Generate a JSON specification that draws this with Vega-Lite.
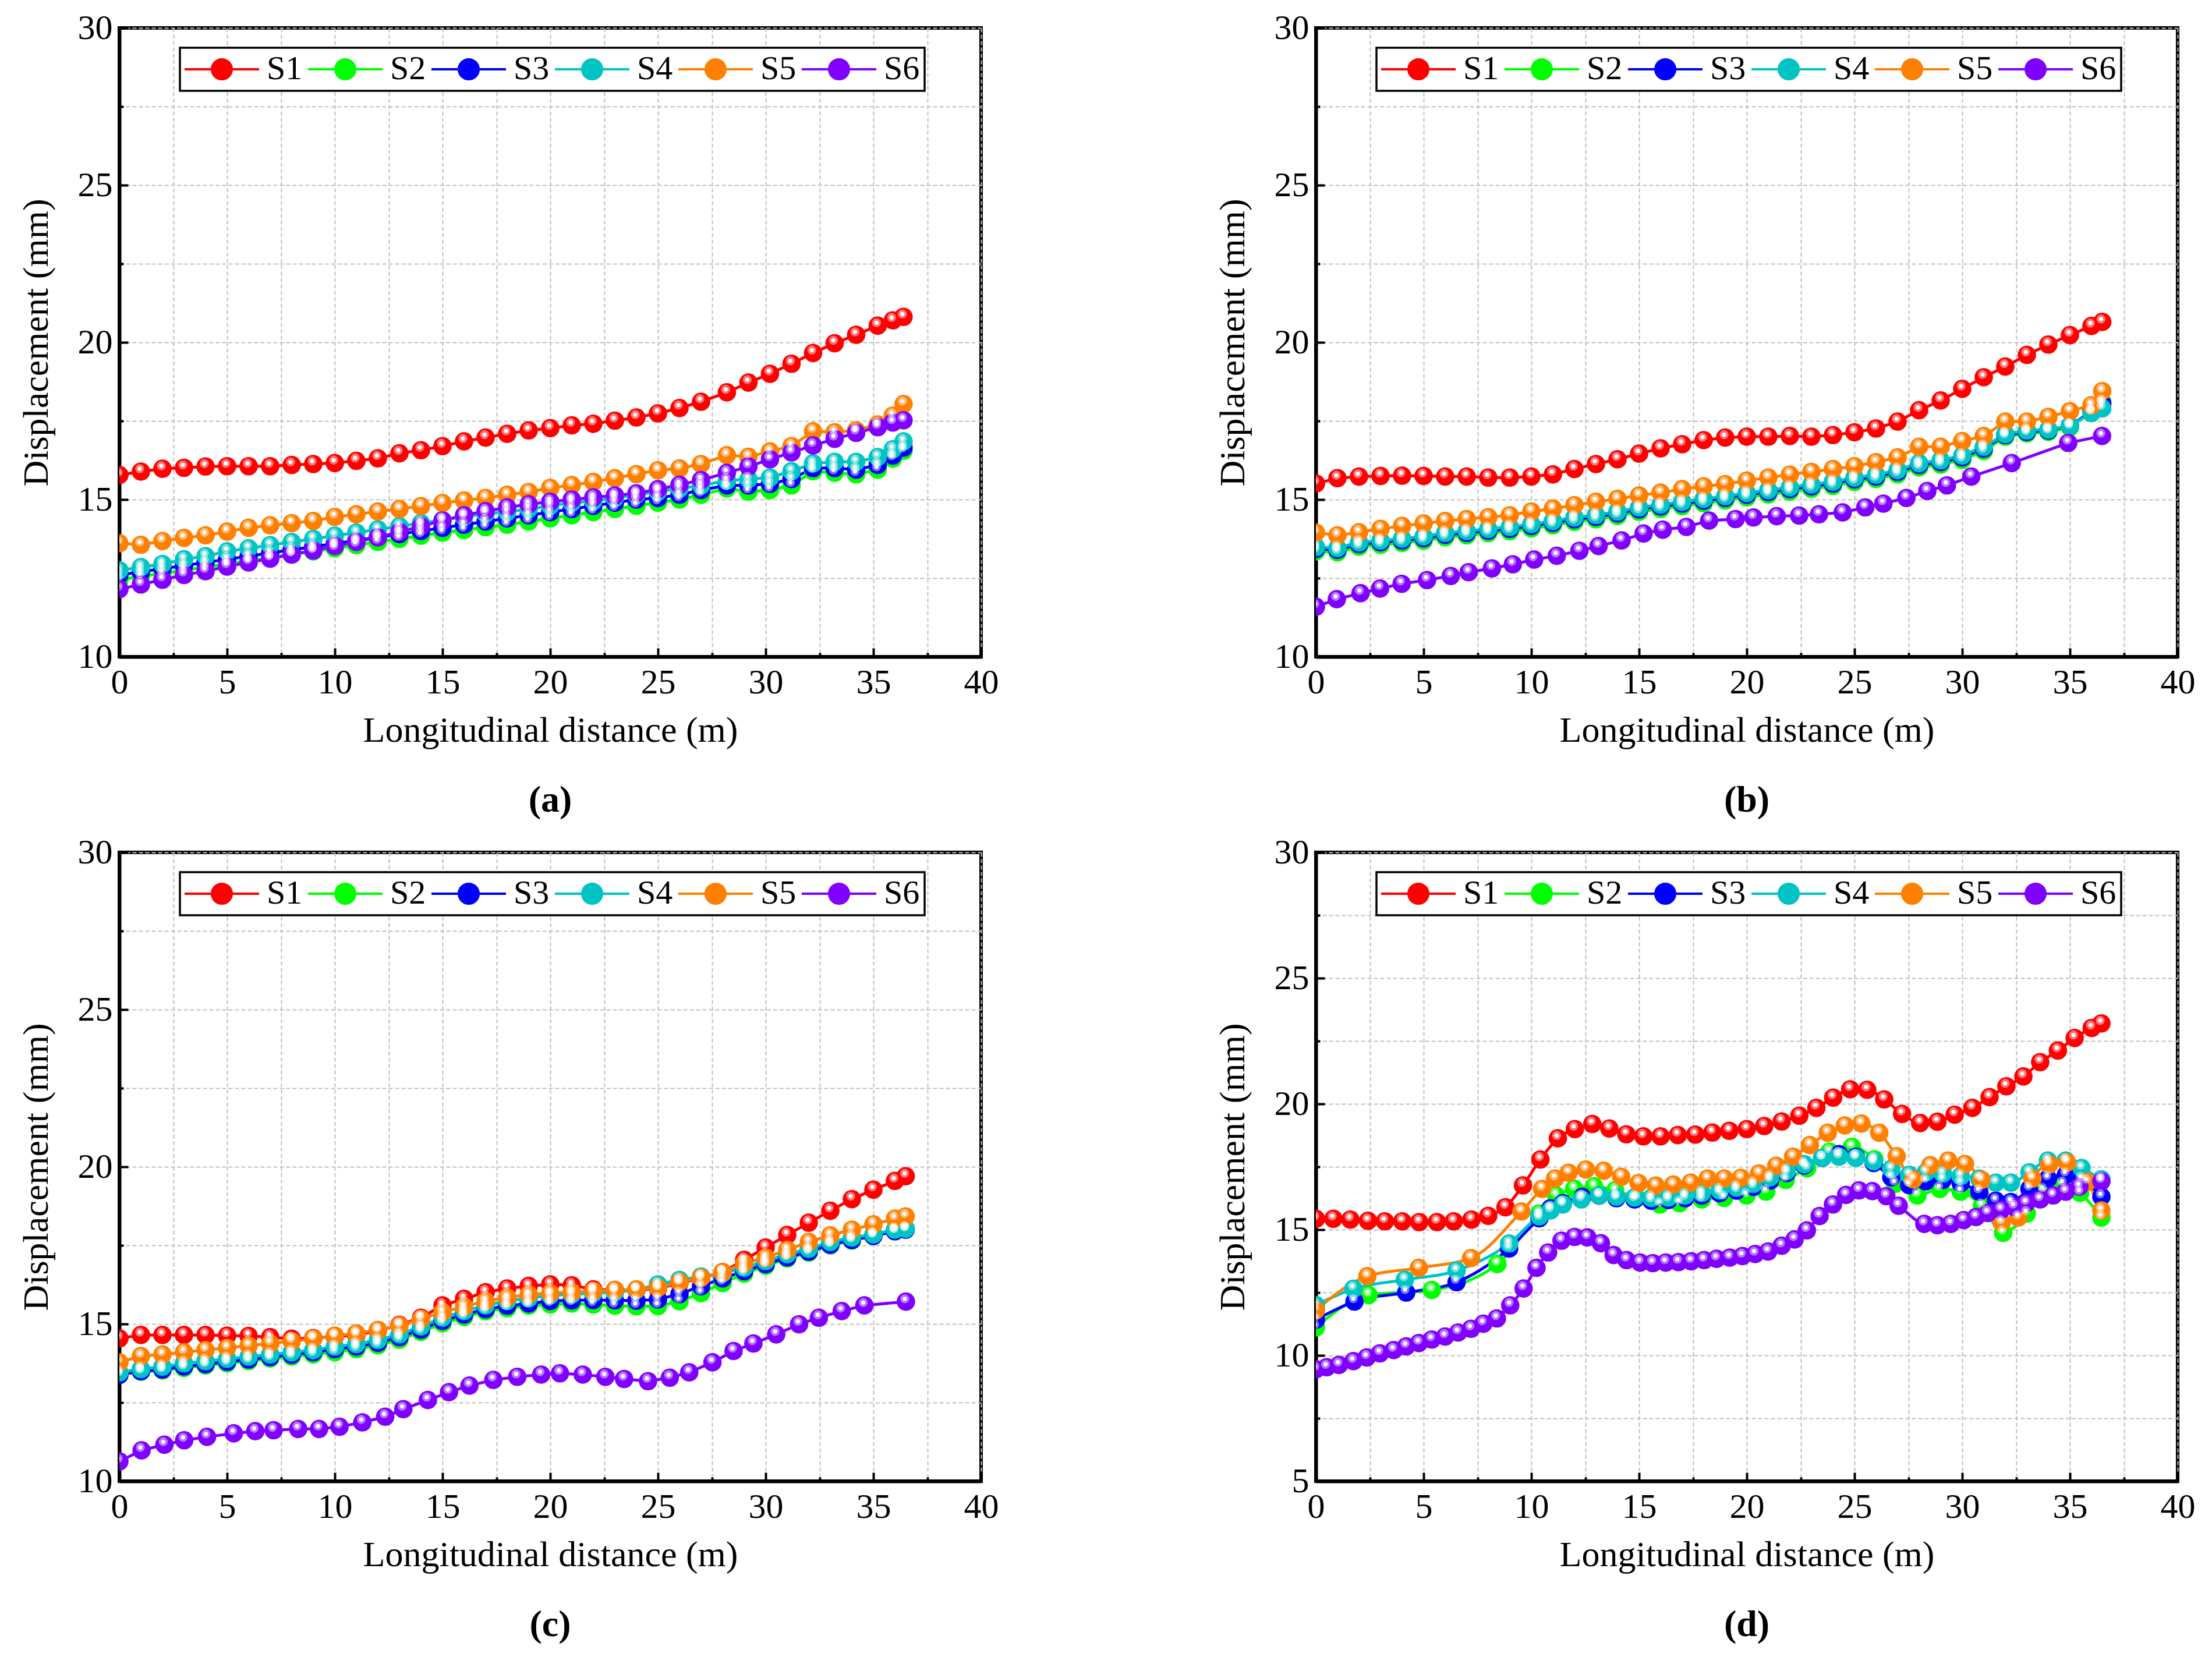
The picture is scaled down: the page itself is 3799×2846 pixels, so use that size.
{
"$schema": "https://vega.github.io/schema/vega-lite/v6.json",
"background": "white",
"padding": {"left": 28, "top": 15, "right": 10, "bottom": 10},
"spacing": 21,
"resolve": {"scale": {"x": "independent", "y": "independent", "color": "independent"}, "legend": {"color": "independent"}},
"datasets": {
"a": [
{"s":"S1","x":0,"y":15.78},{"s":"S1","x":1,"y":15.89},{"s":"S1","x":2,"y":15.98},{"s":"S1","x":3,"y":16.01},{"s":"S1","x":4,"y":16.05},{"s":"S1","x":5,"y":16.06},{"s":"S1","x":6,"y":16.06},{"s":"S1","x":7,"y":16.06},{"s":"S1","x":8,"y":16.1},{"s":"S1","x":9,"y":16.13},{"s":"S1","x":10,"y":16.16},{"s":"S1","x":11,"y":16.23},{"s":"S1","x":12,"y":16.31},{"s":"S1","x":13,"y":16.47},{"s":"S1","x":14,"y":16.57},{"s":"S1","x":15,"y":16.7},{"s":"S1","x":16,"y":16.85},{"s":"S1","x":17,"y":16.97},{"s":"S1","x":18,"y":17.09},{"s":"S1","x":19,"y":17.2},{"s":"S1","x":20,"y":17.27},{"s":"S1","x":21,"y":17.36},{"s":"S1","x":22,"y":17.41},{"s":"S1","x":23,"y":17.51},{"s":"S1","x":24,"y":17.61},{"s":"S1","x":25,"y":17.74},{"s":"S1","x":26,"y":17.91},{"s":"S1","x":27,"y":18.11},{"s":"S1","x":28.2,"y":18.41},{"s":"S1","x":29.2,"y":18.72},{"s":"S1","x":30.2,"y":19.0},{"s":"S1","x":31.2,"y":19.32},{"s":"S1","x":32.2,"y":19.66},{"s":"S1","x":33.2,"y":19.97},{"s":"S1","x":34.2,"y":20.24},{"s":"S1","x":35.2,"y":20.53},{"s":"S1","x":35.9,"y":20.7},{"s":"S1","x":36.4,"y":20.81},
{"s":"S2","x":0,"y":12.45},{"s":"S2","x":1,"y":12.55},{"s":"S2","x":2,"y":12.65},{"s":"S2","x":3,"y":12.75},{"s":"S2","x":4,"y":12.85},{"s":"S2","x":5,"y":12.95},{"s":"S2","x":6,"y":13.05},{"s":"S2","x":7,"y":13.15},{"s":"S2","x":8,"y":13.25},{"s":"S2","x":9,"y":13.35},{"s":"S2","x":10,"y":13.45},{"s":"S2","x":11,"y":13.55},{"s":"S2","x":12,"y":13.65},{"s":"S2","x":13,"y":13.75},{"s":"S2","x":14,"y":13.85},{"s":"S2","x":15,"y":13.95},{"s":"S2","x":16,"y":14.03},{"s":"S2","x":17,"y":14.12},{"s":"S2","x":18,"y":14.2},{"s":"S2","x":19,"y":14.3},{"s":"S2","x":20,"y":14.4},{"s":"S2","x":21,"y":14.5},{"s":"S2","x":22,"y":14.6},{"s":"S2","x":23,"y":14.7},{"s":"S2","x":24,"y":14.8},{"s":"S2","x":25,"y":14.9},{"s":"S2","x":26,"y":15.0},{"s":"S2","x":27,"y":15.15},{"s":"S2","x":28.2,"y":15.35},{"s":"S2","x":29.2,"y":15.25},{"s":"S2","x":30.2,"y":15.3},{"s":"S2","x":31.2,"y":15.45},{"s":"S2","x":32.2,"y":15.9},{"s":"S2","x":33.2,"y":15.85},{"s":"S2","x":34.2,"y":15.8},{"s":"S2","x":35.2,"y":15.95},{"s":"S2","x":35.9,"y":16.3},{"s":"S2","x":36.4,"y":16.55},
{"s":"S3","x":0,"y":12.6},{"s":"S3","x":1,"y":12.7},{"s":"S3","x":2,"y":12.8},{"s":"S3","x":3,"y":12.9},{"s":"S3","x":4,"y":13.0},{"s":"S3","x":5,"y":13.1},{"s":"S3","x":6,"y":13.2},{"s":"S3","x":7,"y":13.3},{"s":"S3","x":8,"y":13.4},{"s":"S3","x":9,"y":13.5},{"s":"S3","x":10,"y":13.6},{"s":"S3","x":11,"y":13.7},{"s":"S3","x":12,"y":13.8},{"s":"S3","x":13,"y":13.9},{"s":"S3","x":14,"y":14.0},{"s":"S3","x":15,"y":14.1},{"s":"S3","x":16,"y":14.2},{"s":"S3","x":17,"y":14.3},{"s":"S3","x":18,"y":14.4},{"s":"S3","x":19,"y":14.5},{"s":"S3","x":20,"y":14.6},{"s":"S3","x":21,"y":14.7},{"s":"S3","x":22,"y":14.8},{"s":"S3","x":23,"y":14.9},{"s":"S3","x":24,"y":15.0},{"s":"S3","x":25,"y":15.05},{"s":"S3","x":26,"y":15.15},{"s":"S3","x":27,"y":15.3},{"s":"S3","x":28.2,"y":15.45},{"s":"S3","x":29.2,"y":15.45},{"s":"S3","x":30.2,"y":15.5},{"s":"S3","x":31.2,"y":15.65},{"s":"S3","x":32.2,"y":16.0},{"s":"S3","x":33.2,"y":16.0},{"s":"S3","x":34.2,"y":15.95},{"s":"S3","x":35.2,"y":16.1},{"s":"S3","x":35.9,"y":16.4},{"s":"S3","x":36.4,"y":16.65},
{"s":"S4","x":0,"y":12.75},{"s":"S4","x":1,"y":12.85},{"s":"S4","x":2,"y":12.95},{"s":"S4","x":3,"y":13.1},{"s":"S4","x":4,"y":13.2},{"s":"S4","x":5,"y":13.35},{"s":"S4","x":6,"y":13.45},{"s":"S4","x":7,"y":13.55},{"s":"S4","x":8,"y":13.65},{"s":"S4","x":9,"y":13.75},{"s":"S4","x":10,"y":13.85},{"s":"S4","x":11,"y":13.95},{"s":"S4","x":12,"y":14.05},{"s":"S4","x":13,"y":14.15},{"s":"S4","x":14,"y":14.25},{"s":"S4","x":15,"y":14.35},{"s":"S4","x":16,"y":14.45},{"s":"S4","x":17,"y":14.55},{"s":"S4","x":18,"y":14.6},{"s":"S4","x":19,"y":14.7},{"s":"S4","x":20,"y":14.8},{"s":"S4","x":21,"y":14.9},{"s":"S4","x":22,"y":14.95},{"s":"S4","x":23,"y":15.05},{"s":"S4","x":24,"y":15.15},{"s":"S4","x":25,"y":15.25},{"s":"S4","x":26,"y":15.35},{"s":"S4","x":27,"y":15.45},{"s":"S4","x":28.2,"y":15.6},{"s":"S4","x":29.2,"y":15.65},{"s":"S4","x":30.2,"y":15.7},{"s":"S4","x":31.2,"y":15.9},{"s":"S4","x":32.2,"y":16.15},{"s":"S4","x":33.2,"y":16.2},{"s":"S4","x":34.2,"y":16.2},{"s":"S4","x":35.2,"y":16.35},{"s":"S4","x":35.9,"y":16.6},{"s":"S4","x":36.4,"y":16.85},
{"s":"S5","x":0,"y":13.61},{"s":"S5","x":1,"y":13.56},{"s":"S5","x":2,"y":13.68},{"s":"S5","x":3,"y":13.78},{"s":"S5","x":4,"y":13.86},{"s":"S5","x":5,"y":13.98},{"s":"S5","x":6,"y":14.1},{"s":"S5","x":7,"y":14.18},{"s":"S5","x":8,"y":14.25},{"s":"S5","x":9,"y":14.32},{"s":"S5","x":10,"y":14.45},{"s":"S5","x":11,"y":14.53},{"s":"S5","x":12,"y":14.62},{"s":"S5","x":13,"y":14.7},{"s":"S5","x":14,"y":14.79},{"s":"S5","x":15,"y":14.89},{"s":"S5","x":16,"y":14.97},{"s":"S5","x":17,"y":15.05},{"s":"S5","x":18,"y":15.15},{"s":"S5","x":19,"y":15.24},{"s":"S5","x":20,"y":15.37},{"s":"S5","x":21,"y":15.46},{"s":"S5","x":22,"y":15.56},{"s":"S5","x":23,"y":15.68},{"s":"S5","x":24,"y":15.81},{"s":"S5","x":25,"y":15.93},{"s":"S5","x":26,"y":15.99},{"s":"S5","x":27,"y":16.13},{"s":"S5","x":28.2,"y":16.41},{"s":"S5","x":29.2,"y":16.36},{"s":"S5","x":30.2,"y":16.53},{"s":"S5","x":31.2,"y":16.7},{"s":"S5","x":32.2,"y":17.17},{"s":"S5","x":33.2,"y":17.14},{"s":"S5","x":34.2,"y":17.2},{"s":"S5","x":35.2,"y":17.39},{"s":"S5","x":35.9,"y":17.67},{"s":"S5","x":36.4,"y":18.04},
{"s":"S6","x":0,"y":12.15},{"s":"S6","x":1,"y":12.3},{"s":"S6","x":2,"y":12.45},{"s":"S6","x":3,"y":12.6},{"s":"S6","x":4,"y":12.72},{"s":"S6","x":5,"y":12.87},{"s":"S6","x":6,"y":13.0},{"s":"S6","x":7,"y":13.12},{"s":"S6","x":8,"y":13.25},{"s":"S6","x":9,"y":13.38},{"s":"S6","x":10,"y":13.52},{"s":"S6","x":11,"y":13.65},{"s":"S6","x":12,"y":13.8},{"s":"S6","x":13,"y":13.97},{"s":"S6","x":14,"y":14.15},{"s":"S6","x":15,"y":14.33},{"s":"S6","x":16,"y":14.5},{"s":"S6","x":17,"y":14.63},{"s":"S6","x":18,"y":14.75},{"s":"S6","x":19,"y":14.85},{"s":"S6","x":20,"y":14.93},{"s":"S6","x":21,"y":15.0},{"s":"S6","x":22,"y":15.07},{"s":"S6","x":23,"y":15.13},{"s":"S6","x":24,"y":15.2},{"s":"S6","x":25,"y":15.33},{"s":"S6","x":26,"y":15.47},{"s":"S6","x":27,"y":15.62},{"s":"S6","x":28.2,"y":15.85},{"s":"S6","x":29.2,"y":16.05},{"s":"S6","x":30.2,"y":16.28},{"s":"S6","x":31.2,"y":16.5},{"s":"S6","x":32.2,"y":16.72},{"s":"S6","x":33.2,"y":16.93},{"s":"S6","x":34.2,"y":17.12},{"s":"S6","x":35.2,"y":17.3},{"s":"S6","x":35.9,"y":17.45},{"s":"S6","x":36.4,"y":17.52}
],
"b": [
{"s":"S1","x":0,"y":15.51},{"s":"S1","x":1,"y":15.68},{"s":"S1","x":2,"y":15.73},{"s":"S1","x":3,"y":15.75},{"s":"S1","x":4,"y":15.76},{"s":"S1","x":5,"y":15.75},{"s":"S1","x":6,"y":15.73},{"s":"S1","x":7,"y":15.73},{"s":"S1","x":8,"y":15.7},{"s":"S1","x":9,"y":15.7},{"s":"S1","x":10,"y":15.73},{"s":"S1","x":11,"y":15.8},{"s":"S1","x":12,"y":15.97},{"s":"S1","x":13,"y":16.13},{"s":"S1","x":14,"y":16.28},{"s":"S1","x":15,"y":16.46},{"s":"S1","x":16,"y":16.63},{"s":"S1","x":17,"y":16.76},{"s":"S1","x":18,"y":16.89},{"s":"S1","x":19,"y":16.97},{"s":"S1","x":20,"y":17.0},{"s":"S1","x":21,"y":17.0},{"s":"S1","x":22,"y":17.02},{"s":"S1","x":23,"y":17.0},{"s":"S1","x":24,"y":17.05},{"s":"S1","x":25,"y":17.14},{"s":"S1","x":26,"y":17.26},{"s":"S1","x":27,"y":17.48},{"s":"S1","x":28,"y":17.84},{"s":"S1","x":29,"y":18.15},{"s":"S1","x":30,"y":18.52},{"s":"S1","x":31,"y":18.89},{"s":"S1","x":32,"y":19.23},{"s":"S1","x":33,"y":19.6},{"s":"S1","x":34,"y":19.93},{"s":"S1","x":35,"y":20.23},{"s":"S1","x":36,"y":20.52},{"s":"S1","x":36.5,"y":20.65},
{"s":"S2","x":0,"y":13.35},{"s":"S2","x":1,"y":13.32},{"s":"S2","x":2,"y":13.5},{"s":"S2","x":3,"y":13.56},{"s":"S2","x":4,"y":13.62},{"s":"S2","x":5,"y":13.69},{"s":"S2","x":6,"y":13.8},{"s":"S2","x":7,"y":13.86},{"s":"S2","x":8,"y":13.93},{"s":"S2","x":9,"y":13.99},{"s":"S2","x":10,"y":14.08},{"s":"S2","x":11,"y":14.18},{"s":"S2","x":12,"y":14.29},{"s":"S2","x":13,"y":14.37},{"s":"S2","x":14,"y":14.48},{"s":"S2","x":15,"y":14.61},{"s":"S2","x":16,"y":14.7},{"s":"S2","x":17,"y":14.79},{"s":"S2","x":18,"y":14.88},{"s":"S2","x":19,"y":14.97},{"s":"S2","x":20,"y":15.07},{"s":"S2","x":21,"y":15.16},{"s":"S2","x":22,"y":15.25},{"s":"S2","x":23,"y":15.34},{"s":"S2","x":24,"y":15.43},{"s":"S2","x":25,"y":15.56},{"s":"S2","x":26,"y":15.65},{"s":"S2","x":27,"y":15.8},{"s":"S2","x":28,"y":16.02},{"s":"S2","x":29,"y":16.11},{"s":"S2","x":30,"y":16.26},{"s":"S2","x":31,"y":16.54},{"s":"S2","x":32,"y":17.0},{"s":"S2","x":33,"y":17.1},{"s":"S2","x":34,"y":17.15},{"s":"S2","x":35,"y":17.3},{"s":"S2","x":36,"y":17.8},{"s":"S2","x":36.5,"y":18.1},
{"s":"S3","x":0,"y":13.43},{"s":"S3","x":1,"y":13.4},{"s":"S3","x":2,"y":13.58},{"s":"S3","x":3,"y":13.64},{"s":"S3","x":4,"y":13.7},{"s":"S3","x":5,"y":13.77},{"s":"S3","x":6,"y":13.88},{"s":"S3","x":7,"y":13.94},{"s":"S3","x":8,"y":14.01},{"s":"S3","x":9,"y":14.07},{"s":"S3","x":10,"y":14.16},{"s":"S3","x":11,"y":14.26},{"s":"S3","x":12,"y":14.37},{"s":"S3","x":13,"y":14.45},{"s":"S3","x":14,"y":14.56},{"s":"S3","x":15,"y":14.69},{"s":"S3","x":16,"y":14.78},{"s":"S3","x":17,"y":14.87},{"s":"S3","x":18,"y":14.96},{"s":"S3","x":19,"y":15.05},{"s":"S3","x":20,"y":15.15},{"s":"S3","x":21,"y":15.24},{"s":"S3","x":22,"y":15.33},{"s":"S3","x":23,"y":15.42},{"s":"S3","x":24,"y":15.51},{"s":"S3","x":25,"y":15.64},{"s":"S3","x":26,"y":15.73},{"s":"S3","x":27,"y":15.88},{"s":"S3","x":28,"y":16.1},{"s":"S3","x":29,"y":16.19},{"s":"S3","x":30,"y":16.34},{"s":"S3","x":31,"y":16.62},{"s":"S3","x":32,"y":17.05},{"s":"S3","x":33,"y":17.15},{"s":"S3","x":34,"y":17.2},{"s":"S3","x":35,"y":17.35},{"s":"S3","x":36,"y":17.8},{"s":"S3","x":36.5,"y":18.05},
{"s":"S4","x":0,"y":13.49},{"s":"S4","x":1,"y":13.46},{"s":"S4","x":2,"y":13.64},{"s":"S4","x":3,"y":13.7},{"s":"S4","x":4,"y":13.76},{"s":"S4","x":5,"y":13.83},{"s":"S4","x":6,"y":13.94},{"s":"S4","x":7,"y":14.0},{"s":"S4","x":8,"y":14.07},{"s":"S4","x":9,"y":14.13},{"s":"S4","x":10,"y":14.22},{"s":"S4","x":11,"y":14.32},{"s":"S4","x":12,"y":14.43},{"s":"S4","x":13,"y":14.51},{"s":"S4","x":14,"y":14.62},{"s":"S4","x":15,"y":14.75},{"s":"S4","x":16,"y":14.84},{"s":"S4","x":17,"y":14.93},{"s":"S4","x":18,"y":15.02},{"s":"S4","x":19,"y":15.11},{"s":"S4","x":20,"y":15.21},{"s":"S4","x":21,"y":15.3},{"s":"S4","x":22,"y":15.39},{"s":"S4","x":23,"y":15.48},{"s":"S4","x":24,"y":15.57},{"s":"S4","x":25,"y":15.7},{"s":"S4","x":26,"y":15.79},{"s":"S4","x":27,"y":15.94},{"s":"S4","x":28,"y":16.16},{"s":"S4","x":29,"y":16.25},{"s":"S4","x":30,"y":16.4},{"s":"S4","x":31,"y":16.68},{"s":"S4","x":32,"y":17.08},{"s":"S4","x":33,"y":17.2},{"s":"S4","x":34,"y":17.23},{"s":"S4","x":35,"y":17.35},{"s":"S4","x":36,"y":17.75},{"s":"S4","x":36.5,"y":17.9},
{"s":"S5","x":0,"y":13.95},{"s":"S5","x":1,"y":13.86},{"s":"S5","x":2,"y":13.96},{"s":"S5","x":3,"y":14.07},{"s":"S5","x":4,"y":14.16},{"s":"S5","x":5,"y":14.24},{"s":"S5","x":6,"y":14.32},{"s":"S5","x":7,"y":14.38},{"s":"S5","x":8,"y":14.44},{"s":"S5","x":9,"y":14.5},{"s":"S5","x":10,"y":14.62},{"s":"S5","x":11,"y":14.71},{"s":"S5","x":12,"y":14.82},{"s":"S5","x":13,"y":14.93},{"s":"S5","x":14,"y":15.02},{"s":"S5","x":15,"y":15.13},{"s":"S5","x":16,"y":15.22},{"s":"S5","x":17,"y":15.33},{"s":"S5","x":18,"y":15.42},{"s":"S5","x":19,"y":15.49},{"s":"S5","x":20,"y":15.6},{"s":"S5","x":21,"y":15.7},{"s":"S5","x":22,"y":15.79},{"s":"S5","x":23,"y":15.88},{"s":"S5","x":24,"y":15.97},{"s":"S5","x":25,"y":16.06},{"s":"S5","x":26,"y":16.19},{"s":"S5","x":27,"y":16.34},{"s":"S5","x":28,"y":16.68},{"s":"S5","x":29,"y":16.68},{"s":"S5","x":30,"y":16.86},{"s":"S5","x":31,"y":17.02},{"s":"S5","x":32,"y":17.48},{"s":"S5","x":33,"y":17.48},{"s":"S5","x":34,"y":17.63},{"s":"S5","x":35,"y":17.81},{"s":"S5","x":36,"y":18.0},{"s":"S5","x":36.5,"y":18.45},
{"s":"S6","x":0,"y":11.59},{"s":"S6","x":0.97,"y":11.83},{"s":"S6","x":2.07,"y":12.02},{"s":"S6","x":2.98,"y":12.17},{"s":"S6","x":3.98,"y":12.32},{"s":"S6","x":5.16,"y":12.44},{"s":"S6","x":6.26,"y":12.57},{"s":"S6","x":7.09,"y":12.69},{"s":"S6","x":8.17,"y":12.81},{"s":"S6","x":9.14,"y":12.94},{"s":"S6","x":10.13,"y":13.09},{"s":"S6","x":11.18,"y":13.21},{"s":"S6","x":12.23,"y":13.37},{"s":"S6","x":13.12,"y":13.52},{"s":"S6","x":14.19,"y":13.7},{"s":"S6","x":15.21,"y":13.92},{"s":"S6","x":16.1,"y":14.04},{"s":"S6","x":17.2,"y":14.13},{"s":"S6","x":18.25,"y":14.33},{"s":"S6","x":19.48,"y":14.38},{"s":"S6","x":20.31,"y":14.43},{"s":"S6","x":21.39,"y":14.47},{"s":"S6","x":22.43,"y":14.49},{"s":"S6","x":23.35,"y":14.53},{"s":"S6","x":24.45,"y":14.59},{"s":"S6","x":25.5,"y":14.75},{"s":"S6","x":26.34,"y":14.87},{"s":"S6","x":27.41,"y":15.05},{"s":"S6","x":28.38,"y":15.27},{"s":"S6","x":29.29,"y":15.45},{"s":"S6","x":30.42,"y":15.73},{"s":"S6","x":32.3,"y":16.16},{"s":"S6","x":34.92,"y":16.8},{"s":"S6","x":36.49,"y":17.02}
],
"c": [
{"s":"S1","x":0,"y":14.54},{"s":"S1","x":1,"y":14.65},{"s":"S1","x":2,"y":14.65},{"s":"S1","x":3,"y":14.65},{"s":"S1","x":4,"y":14.65},{"s":"S1","x":5,"y":14.63},{"s":"S1","x":6,"y":14.62},{"s":"S1","x":7,"y":14.58},{"s":"S1","x":8,"y":14.53},{"s":"S1","x":9,"y":14.55},{"s":"S1","x":10,"y":14.6},{"s":"S1","x":11,"y":14.65},{"s":"S1","x":12,"y":14.78},{"s":"S1","x":13,"y":14.97},{"s":"S1","x":14,"y":15.2},{"s":"S1","x":15,"y":15.59},{"s":"S1","x":16,"y":15.8},{"s":"S1","x":17,"y":16.01},{"s":"S1","x":18,"y":16.13},{"s":"S1","x":19,"y":16.21},{"s":"S1","x":20,"y":16.26},{"s":"S1","x":21,"y":16.23},{"s":"S1","x":22,"y":16.1},{"s":"S1","x":23,"y":16.08},{"s":"S1","x":24,"y":16.08},{"s":"S1","x":25,"y":16.12},{"s":"S1","x":26,"y":16.3},{"s":"S1","x":27,"y":16.45},{"s":"S1","x":28,"y":16.65},{"s":"S1","x":29,"y":17.04},{"s":"S1","x":30,"y":17.43},{"s":"S1","x":31,"y":17.83},{"s":"S1","x":32,"y":18.22},{"s":"S1","x":33,"y":18.6},{"s":"S1","x":34,"y":18.97},{"s":"S1","x":35,"y":19.27},{"s":"S1","x":36,"y":19.55},{"s":"S1","x":36.5,"y":19.7},
{"s":"S2","x":0,"y":13.42},{"s":"S2","x":1,"y":13.48},{"s":"S2","x":2,"y":13.52},{"s":"S2","x":3,"y":13.6},{"s":"S2","x":4,"y":13.68},{"s":"S2","x":5,"y":13.75},{"s":"S2","x":6,"y":13.82},{"s":"S2","x":7,"y":13.9},{"s":"S2","x":8,"y":13.96},{"s":"S2","x":9,"y":14.03},{"s":"S2","x":10,"y":14.1},{"s":"S2","x":11,"y":14.2},{"s":"S2","x":12,"y":14.32},{"s":"S2","x":13,"y":14.5},{"s":"S2","x":14,"y":14.75},{"s":"S2","x":15,"y":15.02},{"s":"S2","x":16,"y":15.22},{"s":"S2","x":17,"y":15.4},{"s":"S2","x":18,"y":15.5},{"s":"S2","x":19,"y":15.58},{"s":"S2","x":20,"y":15.62},{"s":"S2","x":21,"y":15.65},{"s":"S2","x":22,"y":15.62},{"s":"S2","x":23,"y":15.58},{"s":"S2","x":24,"y":15.56},{"s":"S2","x":25,"y":15.57},{"s":"S2","x":26,"y":15.72},{"s":"S2","x":27,"y":15.98},{"s":"S2","x":28,"y":16.3},{"s":"S2","x":29,"y":16.6},{"s":"S2","x":30,"y":16.85},{"s":"S2","x":31,"y":17.08},{"s":"S2","x":32,"y":17.27},{"s":"S2","x":33,"y":17.5},{"s":"S2","x":34,"y":17.65},{"s":"S2","x":35,"y":17.8},{"s":"S2","x":36,"y":17.95},{"s":"S2","x":36.5,"y":18.02},
{"s":"S3","x":0,"y":13.38},{"s":"S3","x":1,"y":13.5},{"s":"S3","x":2,"y":13.55},{"s":"S3","x":3,"y":13.65},{"s":"S3","x":4,"y":13.72},{"s":"S3","x":5,"y":13.8},{"s":"S3","x":6,"y":13.87},{"s":"S3","x":7,"y":13.95},{"s":"S3","x":8,"y":14.02},{"s":"S3","x":9,"y":14.1},{"s":"S3","x":10,"y":14.2},{"s":"S3","x":11,"y":14.28},{"s":"S3","x":12,"y":14.4},{"s":"S3","x":13,"y":14.58},{"s":"S3","x":14,"y":14.82},{"s":"S3","x":15,"y":15.1},{"s":"S3","x":16,"y":15.3},{"s":"S3","x":17,"y":15.47},{"s":"S3","x":18,"y":15.58},{"s":"S3","x":19,"y":15.65},{"s":"S3","x":20,"y":15.73},{"s":"S3","x":21,"y":15.75},{"s":"S3","x":22,"y":15.76},{"s":"S3","x":23,"y":15.75},{"s":"S3","x":24,"y":15.74},{"s":"S3","x":25,"y":15.78},{"s":"S3","x":26,"y":15.95},{"s":"S3","x":27,"y":16.2},{"s":"S3","x":28,"y":16.45},{"s":"S3","x":29,"y":16.68},{"s":"S3","x":30,"y":16.9},{"s":"S3","x":31,"y":17.12},{"s":"S3","x":32,"y":17.3},{"s":"S3","x":33,"y":17.52},{"s":"S3","x":34,"y":17.67},{"s":"S3","x":35,"y":17.8},{"s":"S3","x":36,"y":17.95},{"s":"S3","x":36.5,"y":18.0},
{"s":"S4","x":0,"y":13.46},{"s":"S4","x":1,"y":13.57},{"s":"S4","x":2,"y":13.64},{"s":"S4","x":3,"y":13.75},{"s":"S4","x":4,"y":13.82},{"s":"S4","x":5,"y":13.89},{"s":"S4","x":6,"y":13.96},{"s":"S4","x":7,"y":14.03},{"s":"S4","x":8,"y":14.1},{"s":"S4","x":9,"y":14.17},{"s":"S4","x":10,"y":14.28},{"s":"S4","x":11,"y":14.36},{"s":"S4","x":12,"y":14.49},{"s":"S4","x":13,"y":14.67},{"s":"S4","x":14,"y":14.92},{"s":"S4","x":15,"y":15.2},{"s":"S4","x":16,"y":15.41},{"s":"S4","x":17,"y":15.59},{"s":"S4","x":18,"y":15.73},{"s":"S4","x":19,"y":15.82},{"s":"S4","x":20,"y":15.91},{"s":"S4","x":21,"y":15.94},{"s":"S4","x":22,"y":15.98},{"s":"S4","x":23,"y":16.01},{"s":"S4","x":24,"y":16.08},{"s":"S4","x":25,"y":16.26},{"s":"S4","x":26,"y":16.4},{"s":"S4","x":27,"y":16.51},{"s":"S4","x":28,"y":16.61},{"s":"S4","x":29,"y":16.79},{"s":"S4","x":30,"y":17.0},{"s":"S4","x":31,"y":17.22},{"s":"S4","x":32,"y":17.39},{"s":"S4","x":33,"y":17.61},{"s":"S4","x":34,"y":17.75},{"s":"S4","x":35,"y":17.85},{"s":"S4","x":36,"y":18.0},{"s":"S4","x":36.5,"y":18.03},
{"s":"S5","x":0,"y":13.78},{"s":"S5","x":1,"y":13.98},{"s":"S5","x":2,"y":14.03},{"s":"S5","x":3,"y":14.1},{"s":"S5","x":4,"y":14.17},{"s":"S5","x":5,"y":14.24},{"s":"S5","x":6,"y":14.31},{"s":"S5","x":7,"y":14.38},{"s":"S5","x":8,"y":14.45},{"s":"S5","x":9,"y":14.53},{"s":"S5","x":10,"y":14.63},{"s":"S5","x":11,"y":14.7},{"s":"S5","x":12,"y":14.81},{"s":"S5","x":13,"y":14.95},{"s":"S5","x":14,"y":15.16},{"s":"S5","x":15,"y":15.38},{"s":"S5","x":16,"y":15.55},{"s":"S5","x":17,"y":15.73},{"s":"S5","x":18,"y":15.84},{"s":"S5","x":19,"y":15.94},{"s":"S5","x":20,"y":15.98},{"s":"S5","x":21,"y":16.01},{"s":"S5","x":22,"y":16.05},{"s":"S5","x":23,"y":16.08},{"s":"S5","x":24,"y":16.1},{"s":"S5","x":25,"y":16.15},{"s":"S5","x":26,"y":16.33},{"s":"S5","x":27,"y":16.47},{"s":"S5","x":28,"y":16.65},{"s":"S5","x":29,"y":16.93},{"s":"S5","x":30,"y":17.11},{"s":"S5","x":31,"y":17.36},{"s":"S5","x":32,"y":17.61},{"s":"S5","x":33,"y":17.82},{"s":"S5","x":34,"y":18.0},{"s":"S5","x":35,"y":18.17},{"s":"S5","x":36,"y":18.35},{"s":"S5","x":36.5,"y":18.42},
{"s":"S6","x":0,"y":10.63},{"s":"S6","x":1.03,"y":10.98},{"s":"S6","x":2.09,"y":11.16},{"s":"S6","x":3.01,"y":11.3},{"s":"S6","x":4.07,"y":11.41},{"s":"S6","x":5.31,"y":11.52},{"s":"S6","x":6.31,"y":11.59},{"s":"S6","x":7.16,"y":11.62},{"s":"S6","x":8.3,"y":11.66},{"s":"S6","x":9.27,"y":11.66},{"s":"S6","x":10.22,"y":11.73},{"s":"S6","x":11.28,"y":11.87},{"s":"S6","x":12.34,"y":12.05},{"s":"S6","x":13.18,"y":12.29},{"s":"S6","x":14.32,"y":12.58},{"s":"S6","x":15.3,"y":12.83},{"s":"S6","x":16.25,"y":13.04},{"s":"S6","x":17.36,"y":13.22},{"s":"S6","x":18.47,"y":13.32},{"s":"S6","x":19.58,"y":13.39},{"s":"S6","x":20.45,"y":13.43},{"s":"S6","x":21.51,"y":13.39},{"s":"S6","x":22.56,"y":13.32},{"s":"S6","x":23.43,"y":13.25},{"s":"S6","x":24.54,"y":13.18},{"s":"S6","x":25.55,"y":13.29},{"s":"S6","x":26.45,"y":13.46},{"s":"S6","x":27.53,"y":13.78},{"s":"S6","x":28.51,"y":14.14},{"s":"S6","x":29.43,"y":14.38},{"s":"S6","x":30.49,"y":14.67},{"s":"S6","x":31.55,"y":14.99},{"s":"S6","x":32.47,"y":15.2},{"s":"S6","x":33.53,"y":15.41},{"s":"S6","x":34.58,"y":15.59},{"s":"S6","x":36.51,"y":15.71}
],
"d": [
{"s":"S1","x":0,"y":15.43},{"s":"S1","x":0.81,"y":15.43},{"s":"S1","x":1.6,"y":15.4},{"s":"S1","x":2.42,"y":15.35},{"s":"S1","x":3.2,"y":15.33},{"s":"S1","x":4.01,"y":15.33},{"s":"S1","x":4.8,"y":15.3},{"s":"S1","x":5.62,"y":15.3},{"s":"S1","x":6.4,"y":15.33},{"s":"S1","x":7.22,"y":15.4},{"s":"S1","x":8.0,"y":15.55},{"s":"S1","x":8.8,"y":15.89},{"s":"S1","x":9.61,"y":16.76},{"s":"S1","x":10.42,"y":17.79},{"s":"S1","x":11.23,"y":18.63},{"s":"S1","x":12.02,"y":19.0},{"s":"S1","x":12.83,"y":19.2},{"s":"S1","x":13.62,"y":19.02},{"s":"S1","x":14.41,"y":18.79},{"s":"S1","x":15.2,"y":18.71},{"s":"S1","x":16.0,"y":18.71},{"s":"S1","x":16.8,"y":18.76},{"s":"S1","x":17.61,"y":18.78},{"s":"S1","x":18.4,"y":18.86},{"s":"S1","x":19.19,"y":18.93},{"s":"S1","x":20.0,"y":19.0},{"s":"S1","x":20.81,"y":19.12},{"s":"S1","x":21.62,"y":19.3},{"s":"S1","x":22.44,"y":19.53},{"s":"S1","x":23.23,"y":19.84},{"s":"S1","x":24.01,"y":20.25},{"s":"S1","x":24.8,"y":20.58},{"s":"S1","x":25.59,"y":20.56},{"s":"S1","x":26.38,"y":20.18},{"s":"S1","x":27.21,"y":19.6},{"s":"S1","x":28.05,"y":19.24},{"s":"S1","x":28.85,"y":19.29},{"s":"S1","x":29.65,"y":19.57},{"s":"S1","x":30.47,"y":19.84},{"s":"S1","x":31.27,"y":20.27},{"s":"S1","x":32.05,"y":20.7},{"s":"S1","x":32.84,"y":21.09},{"s":"S1","x":33.62,"y":21.66},{"s":"S1","x":34.44,"y":22.12},{"s":"S1","x":35.22,"y":22.62},{"s":"S1","x":36.01,"y":23.02},{"s":"S1","x":36.46,"y":23.2},
{"s":"S2","x":0,"y":11.11},{"s":"S2","x":2.45,"y":12.4},{"s":"S2","x":5.38,"y":12.6},{"s":"S2","x":8.42,"y":13.63},{"s":"S2","x":10.37,"y":15.64},{"s":"S2","x":11.15,"y":16.36},{"s":"S2","x":11.99,"y":16.62},{"s":"S2","x":12.91,"y":16.72},{"s":"S2","x":13.89,"y":16.56},{"s":"S2","x":14.9,"y":16.25},{"s":"S2","x":15.97,"y":16.0},{"s":"S2","x":16.88,"y":16.05},{"s":"S2","x":17.91,"y":16.2},{"s":"S2","x":18.95,"y":16.26},{"s":"S2","x":19.99,"y":16.36},{"s":"S2","x":20.9,"y":16.51},{"s":"S2","x":21.81,"y":16.98},{"s":"S2","x":22.8,"y":17.44},{"s":"S2","x":23.84,"y":18.1},{"s":"S2","x":24.88,"y":18.29},{"s":"S2","x":25.92,"y":17.8},{"s":"S2","x":26.88,"y":16.82},{"s":"S2","x":27.92,"y":16.36},{"s":"S2","x":28.96,"y":16.62},{"s":"S2","x":29.93,"y":16.51},{"s":"S2","x":30.91,"y":15.95},{"s":"S2","x":31.9,"y":14.87},{"s":"S2","x":33.0,"y":15.64},{"s":"S2","x":33.77,"y":16.56},{"s":"S2","x":34.68,"y":16.82},{"s":"S2","x":35.47,"y":16.46},{"s":"S2","x":36.46,"y":15.48},
{"s":"S3","x":0,"y":11.42},{"s":"S3","x":1.79,"y":12.14},{"s":"S3","x":4.19,"y":12.5},{"s":"S3","x":6.53,"y":12.91},{"s":"S3","x":8.97,"y":14.25},{"s":"S3","x":10.37,"y":15.45},{"s":"S3","x":10.89,"y":15.85},{"s":"S3","x":11.46,"y":16.05},{"s":"S3","x":12.37,"y":16.3},{"s":"S3","x":13.15,"y":16.35},{"s":"S3","x":13.95,"y":16.25},{"s":"S3","x":14.79,"y":16.2},{"s":"S3","x":15.57,"y":16.15},{"s":"S3","x":16.36,"y":16.18},{"s":"S3","x":17.14,"y":16.25},{"s":"S3","x":17.91,"y":16.35},{"s":"S3","x":18.74,"y":16.45},{"s":"S3","x":19.53,"y":16.55},{"s":"S3","x":20.31,"y":16.7},{"s":"S3","x":21.08,"y":16.95},{"s":"S3","x":21.85,"y":17.25},{"s":"S3","x":22.67,"y":17.55},{"s":"S3","x":23.5,"y":17.85},{"s":"S3","x":24.28,"y":18.0},{"s":"S3","x":25.06,"y":17.9},{"s":"S3","x":25.89,"y":17.65},{"s":"S3","x":26.71,"y":17.08},{"s":"S3","x":27.54,"y":16.77},{"s":"S3","x":28.31,"y":16.92},{"s":"S3","x":29.1,"y":16.98},{"s":"S3","x":29.93,"y":16.85},{"s":"S3","x":30.79,"y":16.51},{"s":"S3","x":31.56,"y":16.15},{"s":"S3","x":32.26,"y":16.1},{"s":"S3","x":33.12,"y":16.62},{"s":"S3","x":33.98,"y":17.03},{"s":"S3","x":34.81,"y":17.18},{"s":"S3","x":35.54,"y":17.0},{"s":"S3","x":36.46,"y":16.31},
{"s":"S4","x":0,"y":12.0},{"s":"S4","x":1.74,"y":12.65},{"s":"S4","x":4.13,"y":13.01},{"s":"S4","x":6.53,"y":13.37},{"s":"S4","x":8.97,"y":14.45},{"s":"S4","x":10.37,"y":15.53},{"s":"S4","x":10.89,"y":15.76},{"s":"S4","x":11.46,"y":16.0},{"s":"S4","x":12.32,"y":16.2},{"s":"S4","x":13.15,"y":16.36},{"s":"S4","x":13.95,"y":16.31},{"s":"S4","x":14.79,"y":16.28},{"s":"S4","x":15.57,"y":16.26},{"s":"S4","x":16.36,"y":16.28},{"s":"S4","x":17.14,"y":16.36},{"s":"S4","x":17.91,"y":16.46},{"s":"S4","x":18.74,"y":16.56},{"s":"S4","x":19.53,"y":16.67},{"s":"S4","x":20.31,"y":16.82},{"s":"S4","x":21.08,"y":17.08},{"s":"S4","x":21.85,"y":17.34},{"s":"S4","x":22.67,"y":17.6},{"s":"S4","x":23.5,"y":17.85},{"s":"S4","x":24.28,"y":17.9},{"s":"S4","x":25.06,"y":17.85},{"s":"S4","x":25.89,"y":17.72},{"s":"S4","x":26.71,"y":17.41},{"s":"S4","x":27.54,"y":17.18},{"s":"S4","x":28.31,"y":17.28},{"s":"S4","x":29.1,"y":17.23},{"s":"S4","x":29.93,"y":17.13},{"s":"S4","x":30.79,"y":17.03},{"s":"S4","x":31.56,"y":16.87},{"s":"S4","x":32.26,"y":16.87},{"s":"S4","x":33.12,"y":17.28},{"s":"S4","x":33.98,"y":17.75},{"s":"S4","x":34.81,"y":17.75},{"s":"S4","x":35.54,"y":17.45},{"s":"S4","x":36.46,"y":17.0},
{"s":"S5","x":0,"y":11.8},{"s":"S5","x":2.39,"y":13.15},{"s":"S5","x":4.78,"y":13.48},{"s":"S5","x":7.2,"y":13.87},{"s":"S5","x":9.54,"y":15.72},{"s":"S5","x":10.5,"y":16.62},{"s":"S5","x":11.1,"y":17.03},{"s":"S5","x":11.73,"y":17.26},{"s":"S5","x":12.53,"y":17.39},{"s":"S5","x":13.36,"y":17.34},{"s":"S5","x":14.17,"y":17.1},{"s":"S5","x":14.98,"y":16.85},{"s":"S5","x":15.78,"y":16.75},{"s":"S5","x":16.59,"y":16.79},{"s":"S5","x":17.4,"y":16.87},{"s":"S5","x":18.18,"y":17.03},{"s":"S5","x":18.95,"y":17.03},{"s":"S5","x":19.73,"y":17.06},{"s":"S5","x":20.57,"y":17.23},{"s":"S5","x":21.37,"y":17.54},{"s":"S5","x":22.15,"y":17.9},{"s":"S5","x":22.93,"y":18.36},{"s":"S5","x":23.76,"y":18.85},{"s":"S5","x":24.55,"y":19.14},{"s":"S5","x":25.32,"y":19.22},{"s":"S5","x":26.15,"y":18.85},{"s":"S5","x":26.96,"y":17.92},{"s":"S5","x":27.74,"y":17.0},{"s":"S5","x":28.52,"y":17.56},{"s":"S5","x":29.35,"y":17.75},{"s":"S5","x":30.13,"y":17.61},{"s":"S5","x":30.9,"y":16.98},{"s":"S5","x":31.83,"y":15.28},{"s":"S5","x":32.6,"y":15.48},{"s":"S5","x":33.26,"y":17.03},{"s":"S5","x":34.04,"y":17.59},{"s":"S5","x":34.87,"y":17.67},{"s":"S5","x":35.8,"y":16.9},{"s":"S5","x":36.46,"y":15.76},
{"s":"S6","x":0,"y":9.45},{"s":"S6","x":0.5,"y":9.53},{"s":"S6","x":1.07,"y":9.62},{"s":"S6","x":1.74,"y":9.77},{"s":"S6","x":2.36,"y":9.92},{"s":"S6","x":2.97,"y":10.08},{"s":"S6","x":3.61,"y":10.21},{"s":"S6","x":4.19,"y":10.36},{"s":"S6","x":4.78,"y":10.49},{"s":"S6","x":5.38,"y":10.63},{"s":"S6","x":6.0,"y":10.75},{"s":"S6","x":6.6,"y":10.91},{"s":"S6","x":7.2,"y":11.06},{"s":"S6","x":7.77,"y":11.26},{"s":"S6","x":8.4,"y":11.47},{"s":"S6","x":9.02,"y":11.99},{"s":"S6","x":9.64,"y":12.66},{"s":"S6","x":10.24,"y":13.48},{"s":"S6","x":10.78,"y":14.09},{"s":"S6","x":11.4,"y":14.56},{"s":"S6","x":12.01,"y":14.71},{"s":"S6","x":12.6,"y":14.69},{"s":"S6","x":13.23,"y":14.46},{"s":"S6","x":13.82,"y":13.99},{"s":"S6","x":14.42,"y":13.79},{"s":"S6","x":15.05,"y":13.69},{"s":"S6","x":15.64,"y":13.67},{"s":"S6","x":16.24,"y":13.69},{"s":"S6","x":16.83,"y":13.71},{"s":"S6","x":17.42,"y":13.74},{"s":"S6","x":18.02,"y":13.79},{"s":"S6","x":18.6,"y":13.84},{"s":"S6","x":19.21,"y":13.89},{"s":"S6","x":19.8,"y":13.95},{"s":"S6","x":20.39,"y":14.03},{"s":"S6","x":20.99,"y":14.13},{"s":"S6","x":21.62,"y":14.36},{"s":"S6","x":22.22,"y":14.61},{"s":"S6","x":22.79,"y":14.97},{"s":"S6","x":23.38,"y":15.54},{"s":"S6","x":24.0,"y":16.0},{"s":"S6","x":24.61,"y":16.38},{"s":"S6","x":25.21,"y":16.56},{"s":"S6","x":25.83,"y":16.53},{"s":"S6","x":26.48,"y":16.33},{"s":"S6","x":27.05,"y":15.95},{"s":"S6","x":28.24,"y":15.23},{"s":"S6","x":28.85,"y":15.18},{"s":"S6","x":29.47,"y":15.23},{"s":"S6","x":30.07,"y":15.38},{"s":"S6","x":30.64,"y":15.5},{"s":"S6","x":31.18,"y":15.66},{"s":"S6","x":31.81,"y":15.79},{"s":"S6","x":32.41,"y":15.9},{"s":"S6","x":32.97,"y":16.05},{"s":"S6","x":33.62,"y":16.2},{"s":"S6","x":34.22,"y":16.36},{"s":"S6","x":34.8,"y":16.51},{"s":"S6","x":35.44,"y":16.71},{"s":"S6","x":36.46,"y":16.92}
]
},
"vconcat": [
{
"spacing": 365,
"resolve": {"scale": {"x": "independent", "y": "independent", "color": "independent"}, "legend": {"color": "independent"}},
"hconcat": [
{
"name": "pa", "width": 1480, "height": 1080, "data": {"name": "a"}, "title": {"text": "(a)"},
"encoding": {
"x": {"field": "x", "type": "quantitative", "scale": {"domain": [0, 40], "nice": false}, "axis": {"title": "Longitudinal distance (m)", "values": [0,2.5,5,7.5,10,12.5,15,17.5,20,22.5,25,27.5,30,32.5,35,37.5,40], "labelExpr": "datum.value % 5 === 0 ? datum.label : ''", "tickSize": {"condition": {"test": "datum.value % 5 === 0", "value": -15}, "value": -7}}},
"y": {"field": "y", "type": "quantitative", "scale": {"domain": [10, 30], "nice": false}, "axis": {"title": "Displacement (mm)", "values": [10,12.5,15,17.5,20,22.5,25,27.5,30], "labelExpr": "datum.value % 5 === 0 ? datum.label : ''", "tickSize": {"condition": {"test": "datum.value % 5 === 0", "value": -15}, "value": -7}}}
},
"layer": [
{"mark": {"type": "line", "strokeWidth": 5, "clip": true}, "encoding": {"color": {"field": "s", "type": "nominal", "scale": {"domain": ["S1","S2","S3","S4","S5","S6"], "range": ["#ff0000","#00ff00","#0000ff","#00c4c4","#ff8000","#8000ff"]}, "legend": {"orient": "none", "legendX": 104, "legendY": 34}}}},
{"mark": {"type": "point", "filled": true, "opacity": 1, "size": 1000, "clip": true}, "encoding": {"color": {"field": "s", "type": "nominal", "scale": {"domain": ["S1","S2","S3","S4","S5","S6"], "range": ["#ff0000","#00ff00","#0000ff","#00c4c4","#ff8000","#8000ff"]}, "legend": {"orient": "none", "legendX": 104, "legendY": 34}}}},
{"mark": {"type": "point", "filled": true, "size": 240, "color": "white", "opacity": 0.45, "xOffset": -2, "yOffset": -5, "clip": true}},
{"mark": {"type": "point", "filled": true, "size": 55, "color": "white", "opacity": 0.95, "xOffset": -2, "yOffset": -5, "clip": true}}
]
},
{
"name": "pb", "width": 1480, "height": 1080, "data": {"name": "b"}, "title": {"text": "(b)"},
"encoding": {
"x": {"field": "x", "type": "quantitative", "scale": {"domain": [0, 40], "nice": false}, "axis": {"title": "Longitudinal distance (m)", "values": [0,2.5,5,7.5,10,12.5,15,17.5,20,22.5,25,27.5,30,32.5,35,37.5,40], "labelExpr": "datum.value % 5 === 0 ? datum.label : ''", "tickSize": {"condition": {"test": "datum.value % 5 === 0", "value": -15}, "value": -7}}},
"y": {"field": "y", "type": "quantitative", "scale": {"domain": [10, 30], "nice": false}, "axis": {"title": "Displacement (mm)", "values": [10,12.5,15,17.5,20,22.5,25,27.5,30], "labelExpr": "datum.value % 5 === 0 ? datum.label : ''", "tickSize": {"condition": {"test": "datum.value % 5 === 0", "value": -15}, "value": -7}}}
},
"layer": [
{"mark": {"type": "line", "strokeWidth": 5, "clip": true}, "encoding": {"color": {"field": "s", "type": "nominal", "scale": {"domain": ["S1","S2","S3","S4","S5","S6"], "range": ["#ff0000","#00ff00","#0000ff","#00c4c4","#ff8000","#8000ff"]}, "legend": {"orient": "none", "legendX": 104, "legendY": 34}}}},
{"mark": {"type": "point", "filled": true, "opacity": 1, "size": 1000, "clip": true}, "encoding": {"color": {"field": "s", "type": "nominal", "scale": {"domain": ["S1","S2","S3","S4","S5","S6"], "range": ["#ff0000","#00ff00","#0000ff","#00c4c4","#ff8000","#8000ff"]}, "legend": {"orient": "none", "legendX": 104, "legendY": 34}}}},
{"mark": {"type": "point", "filled": true, "size": 240, "color": "white", "opacity": 0.45, "xOffset": -2, "yOffset": -5, "clip": true}},
{"mark": {"type": "point", "filled": true, "size": 55, "color": "white", "opacity": 0.95, "xOffset": -2, "yOffset": -5, "clip": true}}
]
}
]
},
{
"spacing": 365,
"resolve": {"scale": {"x": "independent", "y": "independent", "color": "independent"}, "legend": {"color": "independent"}},
"hconcat": [
{
"name": "pc", "width": 1480, "height": 1080, "data": {"name": "c"}, "title": {"text": "(c)"},
"encoding": {
"x": {"field": "x", "type": "quantitative", "scale": {"domain": [0, 40], "nice": false}, "axis": {"title": "Longitudinal distance (m)", "values": [0,2.5,5,7.5,10,12.5,15,17.5,20,22.5,25,27.5,30,32.5,35,37.5,40], "labelExpr": "datum.value % 5 === 0 ? datum.label : ''", "tickSize": {"condition": {"test": "datum.value % 5 === 0", "value": -15}, "value": -7}}},
"y": {"field": "y", "type": "quantitative", "scale": {"domain": [10, 30], "nice": false}, "axis": {"title": "Displacement (mm)", "values": [10,12.5,15,17.5,20,22.5,25,27.5,30], "labelExpr": "datum.value % 5 === 0 ? datum.label : ''", "tickSize": {"condition": {"test": "datum.value % 5 === 0", "value": -15}, "value": -7}}}
},
"layer": [
{"mark": {"type": "line", "strokeWidth": 5, "clip": true}, "encoding": {"color": {"field": "s", "type": "nominal", "scale": {"domain": ["S1","S2","S3","S4","S5","S6"], "range": ["#ff0000","#00ff00","#0000ff","#00c4c4","#ff8000","#8000ff"]}, "legend": {"orient": "none", "legendX": 104, "legendY": 34}}}},
{"mark": {"type": "point", "filled": true, "opacity": 1, "size": 1000, "clip": true}, "encoding": {"color": {"field": "s", "type": "nominal", "scale": {"domain": ["S1","S2","S3","S4","S5","S6"], "range": ["#ff0000","#00ff00","#0000ff","#00c4c4","#ff8000","#8000ff"]}, "legend": {"orient": "none", "legendX": 104, "legendY": 34}}}},
{"mark": {"type": "point", "filled": true, "size": 240, "color": "white", "opacity": 0.45, "xOffset": -2, "yOffset": -5, "clip": true}},
{"mark": {"type": "point", "filled": true, "size": 55, "color": "white", "opacity": 0.95, "xOffset": -2, "yOffset": -5, "clip": true}}
]
},
{
"name": "pd", "width": 1480, "height": 1080, "data": {"name": "d"}, "title": {"text": "(d)"},
"encoding": {
"x": {"field": "x", "type": "quantitative", "scale": {"domain": [0, 40], "nice": false}, "axis": {"title": "Longitudinal distance (m)", "values": [0,2.5,5,7.5,10,12.5,15,17.5,20,22.5,25,27.5,30,32.5,35,37.5,40], "labelExpr": "datum.value % 5 === 0 ? datum.label : ''", "tickSize": {"condition": {"test": "datum.value % 5 === 0", "value": -15}, "value": -7}}},
"y": {"field": "y", "type": "quantitative", "scale": {"domain": [5, 30], "nice": false}, "axis": {"title": "Displacement (mm)", "values": [5,7.5,10,12.5,15,17.5,20,22.5,25,27.5,30], "labelExpr": "datum.value % 5 === 0 ? datum.label : ''", "tickSize": {"condition": {"test": "datum.value % 5 === 0", "value": -15}, "value": -7}}}
},
"layer": [
{"mark": {"type": "line", "strokeWidth": 5, "clip": true, "interpolate": "monotone"}, "encoding": {"color": {"field": "s", "type": "nominal", "scale": {"domain": ["S1","S2","S3","S4","S5","S6"], "range": ["#ff0000","#00ff00","#0000ff","#00c4c4","#ff8000","#8000ff"]}, "legend": {"orient": "none", "legendX": 104, "legendY": 34}}}},
{"mark": {"type": "point", "filled": true, "opacity": 1, "size": 1000, "clip": true}, "encoding": {"color": {"field": "s", "type": "nominal", "scale": {"domain": ["S1","S2","S3","S4","S5","S6"], "range": ["#ff0000","#00ff00","#0000ff","#00c4c4","#ff8000","#8000ff"]}, "legend": {"orient": "none", "legendX": 104, "legendY": 34}}}},
{"mark": {"type": "point", "filled": true, "size": 240, "color": "white", "opacity": 0.45, "xOffset": -2, "yOffset": -5, "clip": true}},
{"mark": {"type": "point", "filled": true, "size": 55, "color": "white", "opacity": 0.95, "xOffset": -2, "yOffset": -5, "clip": true}}
]
}
]
}
],
"config": {
"font": "Liberation Serif",
"view": {"stroke": "black", "strokeWidth": 6},
"axis": {
"labelFont": "Liberation Serif", "labelFontSize": 60, "labelColor": "black", "labelOverlap": false, "labelFlush": false,
"titleFont": "Liberation Serif", "titleFontSize": 62, "titleFontWeight": "normal", "titleColor": "black",
"domainColor": "black", "domainWidth": 6, "tickColor": "black", "tickWidth": 4,
"gridColor": "#c0c0c0", "gridDash": [7, 4], "gridWidth": 2, "gridOpacity": 1,
"zindex": 1
},
"axisX": {"labelPadding": 30, "titlePadding": 14},
"axisY": {"labelPadding": 27, "titlePadding": 39},
"legend": {
"direction": "horizontal", "columns": 6, "title": null,
"symbolType": "M-3.2,0L3.2,0M0.85,0A0.85,0.85,0,1,1,-0.85,0A0.85,0.85,0,1,1,0.85,0Z",
"symbolSize": 1600, "symbolStrokeWidth": 4, "symbolOffset": 35, "labelOffset": 48, "columnPadding": 1, "padding": 8,
"strokeColor": "black", "strokeWidth": 3.5, "fillColor": "white",
"labelFont": "Liberation Serif", "labelFontSize": 58, "labelColor": "black", "labelLimit": 0
},
"title": {"orient": "bottom", "anchor": "middle", "frame": "group", "offset": 58, "font": "Liberation Serif", "fontSize": 64, "fontWeight": "bold", "color": "black"}
}
}
